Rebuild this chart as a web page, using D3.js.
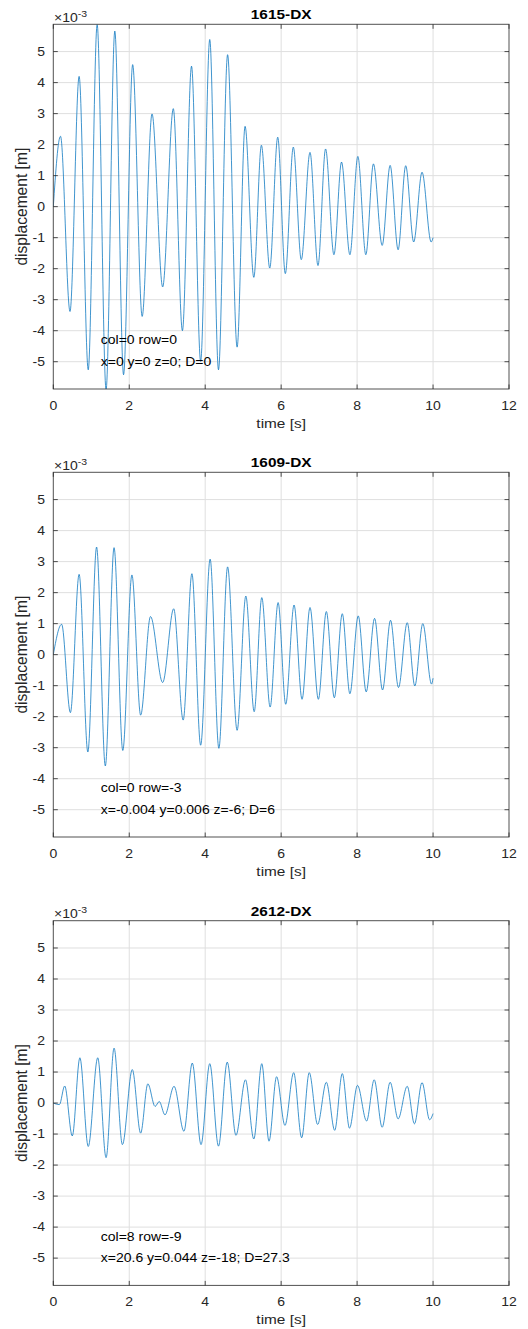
<!DOCTYPE html>
<html><head><meta charset="utf-8">
<script src="https://cdn.jsdelivr.net/npm/d3@7"></script>
<style>
html,body{margin:0;padding:0;background:#fff;}
text{font-family:"Liberation Sans",Arial,Helvetica,sans-serif;}
</style></head>
<body><svg id="chart" width="528" height="1329"></svg>
<script>
// ---------- data (displacement in units of 1e-3 m, time in s) ----------
const titles = ["1615-DX", "1609-DX", "2612-DX"];
const noteLine1 = ["col=0 row=0", "col=0 row=-3", "col=8 row=-9"];
const noteLine2 = ["x=0 y=0 z=0; D=0", "x=-0.004 y=0.006 z=-6; D=6", "x=20.6 y=0.044 z=-18; D=27.3"];
const xTicks = [0, 2, 4, 6, 8, 10, 12];
const yTicks = [-5, -4, -3, -2, -1, 0, 1, 2, 3, 4, 5];
const yLimit = 5.88;

// 1615-DX: turning points of the trace
const time1 = [0, 0.19, 0.44, 0.68, 0.92, 1.155, 1.39, 1.62, 1.85, 2.09, 2.34, 2.60, 2.88, 3.16, 3.40, 3.64, 3.88, 4.12, 4.35, 4.59, 4.84, 5.05, 5.28, 5.48, 5.70, 5.91, 6.11, 6.32, 6.53, 6.76, 6.97, 7.17, 7.39, 7.59, 7.81, 8.02, 8.23, 8.43, 8.66, 8.87, 9.08, 9.28, 9.49, 9.71, 9.95, 10.0];
const disp1 = [0, 2.27, -3.38, 4.20, -5.26, 5.87, -5.90, 5.66, -5.42, 4.58, -3.54, 2.99, -2.59, 3.16, -4.00, 4.53, -4.99, 5.39, -5.26, 4.90, -4.53, 2.59, -2.28, 1.98, -1.98, 2.24, -2.16, 1.92, -1.71, 1.75, -1.90, 1.86, -1.55, 1.44, -1.55, 1.62, -1.55, 1.38, -1.25, 1.33, -1.39, 1.32, -1.14, 1.11, -1.14, -1.00];

// 1609-DX
const time2 = [0, 0.22, 0.45, 0.68, 0.91, 1.14, 1.37, 1.60, 1.83, 2.07, 2.30, 2.56, 2.88, 3.17, 3.42, 3.65, 3.88, 4.13, 4.36, 4.59, 4.84, 5.07, 5.29, 5.49, 5.71, 5.92, 6.12, 6.34, 6.55, 6.76, 6.98, 7.19, 7.40, 7.61, 7.81, 8.03, 8.24, 8.46, 8.67, 8.88, 9.09, 9.32, 9.52, 9.73, 9.96, 10.0];
const disp2 = [0, 0.98, -1.87, 2.59, -3.14, 3.47, -3.59, 3.45, -3.09, 2.57, -1.95, 1.23, -0.90, 1.48, -2.11, 2.61, -2.92, 3.08, -3.02, 2.83, -2.44, 1.89, -1.84, 1.84, -1.69, 1.68, -1.60, 1.60, -1.44, 1.52, -1.44, 1.39, -1.39, 1.32, -1.26, 1.25, -1.20, 1.17, -1.14, 1.11, -1.06, 1.03, -1.01, 1.00, -0.95, -0.76];

// 2612-DX
const time3 = [0, 0.16, 0.30, 0.50, 0.70, 0.92, 1.17, 1.39, 1.60, 1.82, 2.08, 2.30, 2.49, 2.68, 2.79, 2.94, 3.18, 3.44, 3.66, 3.89, 4.12, 4.35, 4.58, 4.81, 5.06, 5.28, 5.49, 5.68, 5.88, 6.10, 6.33, 6.54, 6.74, 6.96, 7.19, 7.41, 7.61, 7.80, 8.01, 8.25, 8.45, 8.66, 8.87, 9.08, 9.32, 9.51, 9.71, 9.91, 10.0];
const disp3 = [0, -0.05, 0.55, -1.06, 1.46, -1.40, 1.46, -1.76, 1.77, -1.34, 1.08, -0.97, 0.62, -0.11, 0.05, -0.38, 0.54, -0.91, 1.29, -1.34, 1.27, -1.39, 1.32, -1.04, 0.75, -1.16, 1.27, -1.23, 0.85, -0.72, 0.98, -1.12, 0.98, -0.69, 0.67, -0.88, 0.95, -0.81, 0.57, -0.58, 0.75, -0.78, 0.67, -0.51, 0.54, -0.67, 0.66, -0.54, -0.34];

const series = [[time1, disp1], [time2, disp2], [time3, disp3]];

// ---------- layout ----------
const svg = d3.select("#chart");
const left = 53.3, plotW = 455.7, plotH = 364.7;
const tops = [24.3, 472.3, 920.7];
const SY = 0.85; // vertical glyph squeeze seen in the reference
const axisCol = "#262626", gridCol = "#dfdfdf", lineCol = "#0072BD";

function txt(g, x, y, s, o) {
  o = o || {};
  const rot = o.rotate ? ` rotate(${o.rotate})` : "";
  return g.append("text")
    .attr("transform", `translate(${x},${y})${rot} scale(${o.sx || 1},${o.sy || SY})`)
    .attr("text-anchor", o.anchor || "start")
    .attr("font-size", o.size || 14)
    .attr("font-weight", o.weight || "normal")
    .attr("fill", o.fill || axisCol)
    .text(s);
}

series.forEach(([tt, dd], i) => {
  const top = tops[i];
  const x = d3.scaleLinear().domain([0, 12]).range([left, left + plotW]);
  const y = d3.scaleLinear().domain([-yLimit, yLimit]).range([top + plotH, top]);
  const g = svg.append("g");
  const clipId = "clip" + i;
  svg.append("clipPath").attr("id", clipId).append("rect")
    .attr("x", left).attr("y", top).attr("width", plotW).attr("height", plotH);

  // grid
  g.selectAll(".gx").data(xTicks.slice(1, -1)).join("line")
    .attr("x1", d => x(d)).attr("x2", d => x(d)).attr("y1", top).attr("y2", top + plotH)
    .attr("stroke", gridCol).attr("stroke-width", 1);
  g.selectAll(".gy").data(yTicks).join("line")
    .attr("x1", left).attr("x2", left + plotW).attr("y1", d => y(d)).attr("y2", d => y(d))
    .attr("stroke", gridCol).attr("stroke-width", 1);

  // data line
  const line = d3.line().x((d, k) => x(tt[k])).y(d => y(d)).curve(d3.curveMonotoneX);
  g.append("path").datum(dd).attr("d", line)
    .attr("fill", "none").attr("stroke", lineCol).attr("stroke-width", 0.75)
    .attr("clip-path", `url(#${clipId})`);

  // box
  g.append("rect").attr("x", left).attr("y", top).attr("width", plotW).attr("height", plotH)
    .attr("fill", "none").attr("stroke", axisCol).attr("stroke-opacity", 0.8).attr("stroke-width", 1);

  // inward ticks on all sides
  const tl = 4.5;
  g.selectAll(".tb").data(xTicks).join("line")
    .attr("x1", d => x(d)).attr("x2", d => x(d)).attr("y1", top + plotH).attr("y2", top + plotH - tl)
    .attr("stroke", axisCol).attr("stroke-opacity", 0.8);
  g.selectAll(".tt").data(xTicks).join("line")
    .attr("x1", d => x(d)).attr("x2", d => x(d)).attr("y1", top).attr("y2", top + tl)
    .attr("stroke", axisCol).attr("stroke-opacity", 0.8);
  g.selectAll(".tlft").data(yTicks).join("line")
    .attr("x1", left).attr("x2", left + tl).attr("y1", d => y(d)).attr("y2", d => y(d))
    .attr("stroke", axisCol).attr("stroke-opacity", 0.8);
  g.selectAll(".trt").data(yTicks).join("line")
    .attr("x1", left + plotW).attr("x2", left + plotW - tl).attr("y1", d => y(d)).attr("y2", d => y(d))
    .attr("stroke", axisCol).attr("stroke-opacity", 0.8);

  // tick labels
  xTicks.forEach(v => txt(g, x(v), top + plotH + 21, String(v), {anchor: "middle"}));
  yTicks.forEach(v => txt(g, left - 8.3, y(v) + 4.3, String(v), {anchor: "end"}));

  // exponent
  const ex = txt(g, left + 0.8, top - 2.6, "×10", {});
  ex.append("tspan").attr("dy", -6).attr("font-size", 10.5).text("-3");

  // title and labels
  txt(g, left + plotW / 2, top - 5, titles[i], {anchor: "middle", size: 15.4, weight: "bold", fill: "#000"});
  txt(g, left + plotW / 2, top + plotH + 39, "time [s]", {anchor: "middle", size: 15.4});
  txt(g, 26.5, top + plotH / 2, "displacement [m]", {anchor: "middle", size: 15.6, rotate: -90, sx: 1, sy: 1});

  // annotation
  txt(g, x(1.25), y(-4.3) + 4.3, noteLine1[i], {fill: "#000"});
  txt(g, x(1.25), y(-5.0) + 4.3, noteLine2[i], {fill: "#000"});
});
</script></body></html>
